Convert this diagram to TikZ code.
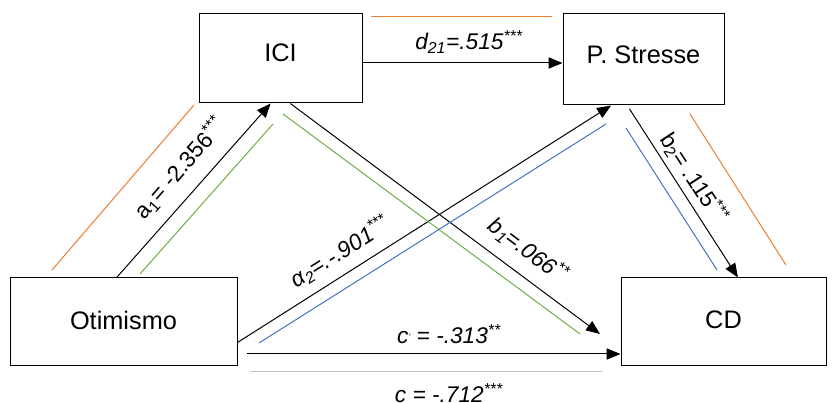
\documentclass[tikz,border=0pt]{standalone}
\usepackage{fontspec}
\setmainfont{Liberation Sans}
\usepackage{xcolor}
\usetikzlibrary{arrows.meta,calc}

\definecolor{pathorange}{RGB}{237,125,49}
\definecolor{pathgreen}{RGB}{112,173,71}
\definecolor{pathblue}{RGB}{68,114,196}
\definecolor{pathgrey}{RGB}{191,191,191}

\begin{document}
\begin{tikzpicture}[x=0.75pt,y=0.75pt,yscale=-1,xscale=1,
    varbox/.style={draw, line width=0.75pt, inner sep=0pt, font=\fontsize{19}{23}\selectfont},
    effect/.style={line width=0.75pt, -{Triangle[length=10.5pt,width=8.5pt]}},
    coefup/.style={inner sep=0pt, font=\fontsize{17}{20}\selectfont},
    coefit/.style={inner sep=0pt, font=\fontsize{17}{20}\selectfont\itshape},
    route/.style={line width=0.75pt}
  ]
  \path (0,0) rectangle (836,394); %fixes the page size

  % Variables
  \node [varbox, minimum width=163*0.75pt, minimum height=89*0.75pt, text depth=9.5pt] (ici) at (280.5,58.5) {ICI};
  \node [varbox, minimum width=161*0.75pt, minimum height=91*0.75pt, text depth=8pt] (stress) at (643.5,59.5) {P. Stresse};
  \node [varbox, minimum width=227*0.75pt, minimum height=88*0.75pt, text depth=3pt] (otim) at (123.5,322) {Otimismo};
  \node [varbox, minimum width=205*0.75pt, minimum height=88*0.75pt, text depth=3pt] (cd) at (723.5,322) {CD};

  % free ends
  \coordinate (d21start) at ($(ici.north east)!0.55!(ici.south east)$);
  \coordinate (b1end) at (600,334);
  \coordinate (cpstart) at (247,354);

  % Effects
  \draw [effect] ($(otim.north west)!0.47!(otim.north east)$) -- ($(ici.south west)!0.44!(ici.south east)$);
  \draw [effect] (d21start) -- (stress.west |- d21start);
  \draw [effect] ($(otim.north east)!0.73!(otim.south east)$) -- ($(stress.south west)!0.30!(stress.south east)$);
  \draw [effect] ($(ici.south west)!0.56!(ici.south east)$) -- (b1end);
  \draw [effect, shorten <=3pt] ($(stress.south west)!0.40!(stress.south east)$) -- ($(cd.north west)!0.57!(cd.north east)$);
  \draw [effect] (cpstart) -- (cd.west |- cpstart);

  % Indirect routes
  \draw [route, pathorange] (52,270) -- (194,105);
  \draw [route, pathorange] (371,17) -- (552,17);
  \draw [route, pathorange] (690,114) -- (786,265);
  \draw [route, pathgreen] (140,274) -- (273,124);
  \draw [route, pathgreen] (283,114) -- (580,334);
  \draw [route, pathblue] (259,343) -- (606,124);
  \draw [route, pathblue] (626,128) -- (717,270);
  \draw [route, pathgrey] (250,372) -- (602,372);

  % Coefficients
  \node [coefup, rotate=48.7] (a1lab) at (180,168) {a\textsubscript{1}= -2.356\textsuperscript{***}};
  \node [coefit] (d21lab) at (469,42) {d\textsubscript{21}=.515\textsuperscript{***}};
  \node [coefit, rotate=32.3] (a2lab) at (340,252) {α\textsubscript{2}=.-.901\textsuperscript{***}};
  \node [coefit, rotate=-36.7] (b1lab) at (528,250) {b\textsubscript{1}=.066\textsuperscript{**}};
  \node [coefup, rotate=-57] (b2lab) at (694,178) {b\textsubscript{2}= .115\textsuperscript{***}};
  \node [coefit] (cplab) at (449,334) {c\raisebox{0.25ex}{\scriptsize '} = -.313\textsuperscript{**}};
  \node [coefit] (clab) at (449,393) {c = -.712\textsuperscript{***}};
\end{tikzpicture}
\end{document}
